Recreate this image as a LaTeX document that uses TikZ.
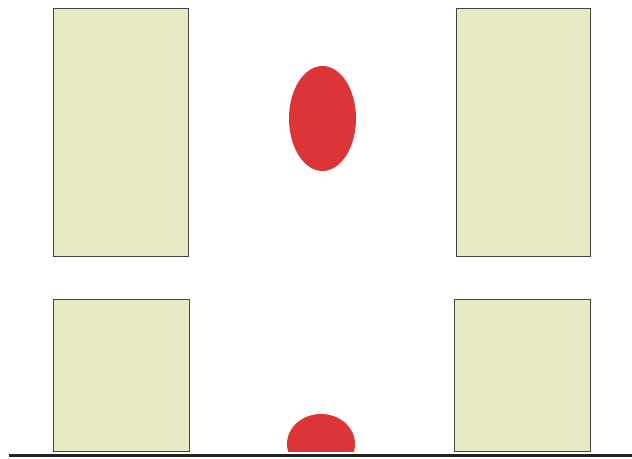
\documentclass[tikz,border=0pt]{standalone}
\usepackage{tikz}
\usetikzlibrary{shapes.geometric}
\usepackage{xcolor}
\definecolor{padfill}{HTML}{E8EAC4}
\definecolor{paddraw}{HTML}{444444}
\definecolor{dropred}{HTML}{DC3538}
\definecolor{groundgray}{HTML}{222222}

\begin{document}
\begin{tikzpicture}[
  x=0.5pt, y=-0.5pt,
  pad/.style={rectangle, draw=paddraw, fill=padfill, line width=0.5pt,
              inner sep=0pt, minimum width=#1},
  drop/.style={ellipse, fill=dropred, draw=none, inner sep=0pt},
  ground/.style={line width=1.5pt, groundgray}
]
\useasboundingbox (0,0) rectangle (632,459);

% Upper pads
\node[pad=67.5pt, minimum height=124pt] (upleft) at (120.5,133) {};
\node[pad=67pt, minimum height=124pt] (upright) at (523,133) {};

% Lower pads
\node[pad=68pt, minimum height=76pt] (lowleft) at (121,376) {};
\node[pad=68pt, minimum height=76pt] (lowright) at (522,376) {};

% Drops
\node[drop, minimum width=33.5pt, minimum height=52.5pt] (dropup) at (322.5,118.5) {};
\begin{scope}
  \clip (280,400) rectangle (365,452);
  \node[drop, minimum width=34pt, minimum height=30pt] (droplow) at (321,444) {};
\end{scope}

% Ground line
\coordinate (groundleft) at (9,456);
\coordinate (groundright) at (632,456);
\draw[ground] (groundleft) -- (groundright);

\end{tikzpicture}
\end{document}
